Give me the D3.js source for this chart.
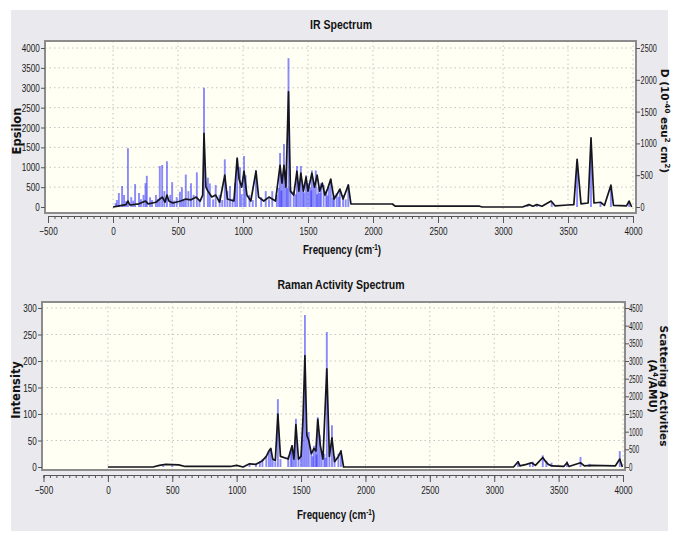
<!DOCTYPE html>
<html>
<head>
<meta charset="utf-8">
<script src="https://cdn.jsdelivr.net/npm/d3@7"></script>
<style>
  body { margin: 0; background: #fff; }
  text { font-family: "Liberation Sans", Arial, sans-serif; }
</style>
</head>
<body>
<script>
// IR spectrum: broadened curve (frequency, epsilon)
const irLine = [
  [0,0],[50,30],[100,60],[115,150],[130,50],[200,80],[250,150],[270,80],[330,120],[360,200],[380,250],
  [400,120],[415,300],[430,150],[460,100],[520,150],[560,200],[600,180],[640,250],[670,150],[690,300],
  [700,1850],[715,500],[730,400],[760,250],[790,300],[820,120],[860,800],[880,200],[930,150],[955,1230],
  [970,700],[990,500],[1008,900],[1030,300],[1060,150],[1100,900],[1120,250],[1160,150],[1200,250],
  [1250,150],[1285,1050],[1300,600],[1315,1050],[1330,500],[1350,2900],[1365,400],[1390,300],[1415,900],
  [1430,400],[1445,850],[1465,400],[1485,750],[1500,400],[1530,850],[1550,500],[1570,800],[1590,400],
  [1610,600],[1630,300],[1650,450],[1675,700],[1700,200],[1720,300],[1745,450],[1770,200],[1810,550],
  [1830,80],[2150,75],[2170,20],[2820,20],[2840,0],[3150,0],[3200,60],[3230,20],[3260,60],[3300,20],
  [3370,150],[3400,30],[3500,50],[3545,60],[3570,1200],[3600,80],[3655,100],[3677,1740],[3700,100],
  [3750,120],[3780,40],[3830,550],[3850,40],[3950,30],[3970,150],[3990,0]
];
// IR transitions (frequency, D in 10^-40 esu^2 cm^2)
const irSticks = [
  [30,110],[45,220],[70,330],[85,190],[115,925],[140,155],[170,360],[200,220],[235,190],[250,375],
  [260,490],[285,155],[330,190],[360,645],[378,660],[395,250],[415,720],[440,190],[455,390],[490,155],
  [515,240],[530,310],[560,510],[580,250],[600,375],[620,190],[645,545],[700,1875],[730,460],[745,370],
  [790,345],[820,190],[860,750],[880,250],[900,330],[940,375],[955,750],[977,625],[1008,800],[1020,500],
  [1050,190],[1100,580],[1140,155],[1175,250],[1225,250],[1260,190],[1285,850],[1300,440],[1315,990],
  [1330,560],[1350,2340],[1365,310],[1390,250],[1415,645],[1430,375],[1445,645],[1460,310],[1485,500],
  [1500,375],[1515,310],[1530,575],[1545,375],[1560,575],[1580,310],[1600,375],[1620,345],[1640,250],
  [1660,310],[1675,440],[1700,190],[1720,220],[1745,270],[1770,190],[1810,360],[3190,25],[3260,25],
  [3375,75],[3570,690],[3677,940],[3750,60],[3830,310],[3970,75],
  [20,60],[100,90],[155,100],[215,120],[300,110],[345,130],[470,100],[545,120],[665,110],[770,120],
  [840,110],[920,130],[990,200],[1075,110],[1200,120],[1275,300],[1295,260],[1340,300],[1405,200],
  [1470,230],[1525,260],[1570,200],[1590,220],[1650,180],[1690,150],[1735,160],[1790,120]
];
// Raman spectrum: broadened curve (frequency, intensity)
const ramanLine = [
  [0,0],[350,0],[400,3],[450,5],[550,4],[600,1],[950,1],[1000,3],[1050,0],[1100,6],[1150,5],[1200,12],
  [1230,20],[1250,30],[1265,35],[1280,15],[1300,12],[1320,100],[1340,20],[1400,15],[1430,40],[1445,15],
  [1460,80],[1480,15],[1500,20],[1515,90],[1530,210],[1545,60],[1560,50],[1580,25],[1600,35],[1615,30],
  [1630,90],[1650,40],[1670,15],[1700,185],[1720,20],[1740,55],[1760,10],[1790,20],[1810,30],[1830,0],
  [3150,0],[3185,10],[3200,2],[3250,5],[3290,8],[3320,3],[3377,18],[3400,10],[3420,5],[3450,2],
  [3540,1],[3565,8],[3580,1],[3670,8],[3700,2],[3750,3],[3940,2],[3975,15],[3995,0]
];
// Raman transitions (frequency, scattering activity A^4/AMU)
const ramanSticks = [
  [1180,150],[1200,225],[1230,300],[1250,450],[1265,525],[1280,225],[1300,150],[1320,1920],[1340,225],
  [1400,300],[1420,450],[1430,615],[1445,225],[1460,1365],[1480,300],[1500,375],[1515,1400],[1530,4300],
  [1545,975],[1560,990],[1580,450],[1600,600],[1615,525],[1630,1410],[1645,900],[1660,450],[1680,375],
  [1700,3820],[1720,450],[1740,1185],[1760,300],[1790,375],[1810,480],[3185,165],[3277,120],[3300,150],
  [3377,330],[3405,180],[3445,120],[3565,165],[3670,285],[3740,90],[3975,450],
  [430,40],[500,50],[1100,90],[1150,80],[1590,300],[1620,350],[1690,260]
];

const freqTicks = d3.range(-500, 4001, 500);
const freqMinor = d3.range(-500, 4001, 50);
const epsTicks = d3.range(0, 4001, 500);
const dTicks = d3.range(0, 2501, 500);
const intTicks = d3.range(0, 301, 50);
const actTicks = d3.range(0, 4501, 500);

const width = 673, height = 533;

const svg = d3.select("body").append("svg")
  .attr("width", width).attr("height", height);

svg.append("rect").attr("x", 11).attr("y", 10).attr("width", 657).attr("height", 521)
  .attr("fill", "#eaeaee");

function panel(o) {
  const g = svg.append("g");
  const x = d3.scaleLinear([-500, 4000], o.xRange);
  const yL = d3.scaleLinear(o.leftDomain, o.yRange);
  const yR = d3.scaleLinear(o.rightDomain, o.yRange);
  const [l, t, r, b] = o.box;

  g.append("rect").attr("x", l).attr("y", t).attr("width", r - l).attr("height", b - t)
    .attr("fill", "#fffff3");

  // grid
  g.append("g").selectAll("line").data(freqTicks.filter(d => d >= 0))
    .join("line")
    .attr("x1", d => x(d)).attr("x2", d => x(d)).attr("y1", t).attr("y2", b)
    .attr("stroke", "#c4c4c4").attr("stroke-dasharray", "1.5,3");
  g.append("g").selectAll("line").data(o.leftTicks.slice(1))
    .join("line")
    .attr("y1", d => yL(d)).attr("y2", d => yL(d)).attr("x1", l).attr("x2", r)
    .attr("stroke", "#c4c4c4").attr("stroke-dasharray", "1.5,3");

  const clipId = "clip" + o.id;
  g.append("clipPath").attr("id", clipId).append("rect")
    .attr("x", l).attr("y", t).attr("width", r - l).attr("height", b - t);
  const plot = g.append("g").attr("clip-path", `url(#${clipId})`);

  // sticks
  plot.append("g").selectAll("line").data(o.sticks)
    .join("line")
    .attr("x1", d => x(d[0])).attr("x2", d => x(d[0]))
    .attr("y1", yR(0)).attr("y2", d => yR(d[1]))
    .attr("stroke", "#2a2aff").attr("stroke-opacity", 0.55).attr("stroke-width", 1.9);

  // broadened curve
  plot.append("path").datum(o.line)
    .attr("fill", "none").attr("stroke", "#15151f").attr("stroke-width", 1.7)
    .attr("stroke-linejoin", "round")
    .attr("d", d3.line().x(d => x(d[0])).y(d => yL(d[1])));

  // frame
  g.append("rect").attr("x", l).attr("y", t).attr("width", r - l).attr("height", b - t)
    .attr("fill", "none").attr("stroke", "#8c8c8c").attr("stroke-width", 2);

  // tick text is squeezed horizontally to mimic the condensed original font
  const style = k => a => a.call(s => s.select(".domain").attr("stroke", "#555"))
    .call(s => s.selectAll(".tick line").attr("stroke", "#555"))
    .call(s => s.selectAll(".tick text").attr("fill", "#1a1a1a").attr("font-size", 11)
      .attr("font-family", '"Liberation Sans", Arial, sans-serif')
      .attr("transform", `scale(${k},1)`));

  // x axis
  g.append("g").attr("transform", `translate(0,${o.xAxisY})`)
    .call(d3.axisBottom(x).tickValues(freqMinor).tickSize(3).tickFormat(""))
    .call(style(0.74));
  g.append("g").attr("transform", `translate(0,${o.xAxisY})`)
    .call(d3.axisBottom(x).tickValues(freqTicks).tickSize(7).tickPadding(4).tickFormat(d3.format("d")))
    .call(s => s.select(".domain").remove())
    .call(style(0.74));

  // left axis
  g.append("g").attr("transform", `translate(${l},0)`)
    .call(d3.axisLeft(yL).tickValues(o.leftTicks).tickSize(4).tickPadding(3).tickFormat(d3.format("d")))
    .call(s => s.select(".domain").remove())
    .call(style(0.74));
  // right axis
  g.append("g").attr("transform", `translate(${r},0)`)
    .call(d3.axisRight(yR).tickValues(o.rightTicks).tickSize(4).tickPadding(3).tickFormat(d3.format("d")))
    .call(s => s.select(".domain").remove())
    .call(style(o.rightNarrow));

  // titles (condensed)
  g.append("g").attr("transform", `translate(341,${o.titleY}) scale(0.78,1)`)
    .append("text").attr("text-anchor", "middle")
    .attr("font-size", 13.5).attr("font-weight", "bold").attr("fill", "#111").text(o.title);
  g.append("g").attr("transform", `translate(${o.xLabelX},${o.xLabelY}) scale(0.75,1)`)
    .append("text").attr("text-anchor", "middle")
    .attr("font-size", 13).attr("font-weight", "bold").attr("fill", "#111")
    .call(s => s.append("tspan").text("Frequency (cm"))
    .call(s => s.append("tspan").attr("dy", -4).attr("font-size", 8.5).text("-1"))
    .call(s => s.append("tspan").attr("dy", 4).text(")"));
  g.append("text").attr("transform", `translate(${o.leftLabelX},${(t + b) / 2 + 4}) rotate(-90)`)
    .attr("text-anchor", "middle").attr("font-size", 11.5).attr("font-weight", "bold")
    .style("font-family", '"DejaVu Sans", sans-serif').attr("fill", "#111").text(o.leftLabel);
  o.rightLabel(g, (t + b) / 2);
}

panel({
  id: "ir", box: [45, 41, 636, 213], xRange: [48, 633], yRange: [207, 48],
  leftDomain: [0, 4000], rightDomain: [0, 2500], leftTicks: epsTicks, rightTicks: dTicks,
  rightNarrow: 0.66,
  xAxisY: 216, titleY: 29, xLabelX: 342, xLabelY: 254, leftLabelX: 21,
  title: "IR Spectrum", leftLabel: "Epsilon",
  line: irLine, sticks: irSticks,
  rightLabel: (g, cy) => g.append("text")
    .attr("transform", `translate(661,${cy - 6}) rotate(90)`)
    .attr("text-anchor", "middle").attr("font-size", 10.5).attr("font-weight", "bold")
    .style("font-family", '"DejaVu Sans", sans-serif').attr("fill", "#111")
    .call(s => s.append("tspan").text("D (10"))
    .call(s => s.append("tspan").attr("dy", -4).attr("font-size", 7).text("-40"))
    .call(s => s.append("tspan").attr("dy", 4).text(" esu"))
    .call(s => s.append("tspan").attr("dy", -4).attr("font-size", 7).text("2"))
    .call(s => s.append("tspan").attr("dy", 4).text(" cm"))
    .call(s => s.append("tspan").attr("dy", -4).attr("font-size", 7).text("2"))
    .call(s => s.append("tspan").attr("dy", 4).text(")"))
});

panel({
  id: "raman", box: [42, 302, 625, 470], xRange: [43.5, 623], yRange: [467, 308],
  leftDomain: [0, 300], rightDomain: [0, 4500], leftTicks: intTicks, rightTicks: actTicks,
  rightNarrow: 0.56,
  xAxisY: 475, titleY: 289, xLabelX: 336, xLabelY: 519, leftLabelX: 20,
  title: "Raman Activity Spectrum", leftLabel: "Intensity",
  line: ramanLine, sticks: ramanSticks,
  rightLabel: (g, cy) => {
    g.append("text")
      .attr("transform", `translate(660,${cy}) rotate(90)`)
      .attr("text-anchor", "middle").attr("font-size", 10.5).attr("font-weight", "bold")
      .style("font-family", '"DejaVu Sans", sans-serif').attr("fill", "#111")
      .text("Scattering Activities");
    g.append("text")
      .attr("transform", `translate(649,${cy}) rotate(90)`)
      .attr("text-anchor", "middle").attr("font-size", 10.5).attr("font-weight", "bold")
      .style("font-family", '"DejaVu Sans", sans-serif').attr("fill", "#111")
      .call(s => s.append("tspan").text("(A"))
      .call(s => s.append("tspan").attr("dy", -4).attr("font-size", 7).text("4"))
      .call(s => s.append("tspan").attr("dy", 4).text("/AMU)"));
  }
});
</script>
</body>
</html>
